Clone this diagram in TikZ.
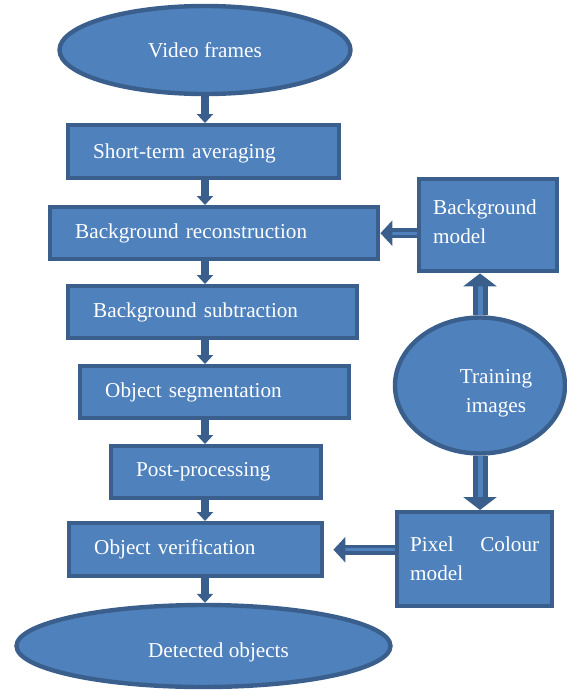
\documentclass[tikz,border=0pt]{standalone}
\usepackage{fontspec}
\setmainfont{Liberation Serif}
\usetikzlibrary{arrows.meta,shapes.geometric}
\definecolor{boxfill}{HTML}{4F81BD}
\definecolor{boxline}{HTML}{3A5F8C}
\newcommand{\nudge}[2]{\raisebox{#1}[\height][\depth]{#2}}
\tikzset{
  stepbox/.style={draw=boxline, fill=boxfill, line width=2.2pt, text=white,
    align=left, anchor=north west, inner xsep=12.5pt, inner ysep=0pt, minimum height=26pt},
  oval/.style={ellipse, draw=boxline, fill=boxfill, line width=2.2pt, text=white,
    align=center, inner sep=0pt},
  flow/.style={draw=boxline, line width=4pt, -{Triangle[width=8pt,length=4.5pt]}},
  hollow/.style={draw=boxline, line width=1.7pt, double=boxfill, double distance=1.6pt,
    -{Triangle[width=12.5pt,length=6pt]}},
  widehollow/.style={hollow, line width=2.5pt, double distance=2.5pt,
    -{Triangle[width=16.5pt,length=6.5pt]}}
}
\begin{document}
\begin{tikzpicture}[x=0.5pt,y=-0.5pt,font=\fontsize{10.6}{14.5}\selectfont]
  \useasboundingbox (0,0) rectangle (567,691);
  % main column
  \node[oval, minimum width=145.5pt, minimum height=44pt] (frames) at (205,50) {Video frames};
  \node[stepbox, text width=110.5pt, minimum height=26.5pt] (avg) at (66,123) {\nudge{-1pt}{Short-term averaging}};
  \node[stepbox, text width=139pt] (recon) at (48,205) {Background reconstruction};
  \node[stepbox, text width=119.5pt] (subtr) at (66,284) {Background subtraction};
  \node[stepbox, text width=109.5pt] (segm) at (78,364) {Object segmentation};
  \node[stepbox, text width=80pt] (post) at (109,444) {Post-processing};
  \node[stepbox, text width=101.5pt, minimum height=26.5pt] (verif) at (67,521) {Object verification};
  \node[oval, minimum width=187pt, minimum height=41pt] (detected) at (203.5,646) {\hspace*{15pt}\nudge{-3pt}{Detected objects}};
  % models on the right
  \node[stepbox, text width=55pt, inner xsep=7pt, minimum height=46pt] (bgmodel) at (417,177) {\nudge{1pt}{\begin{tabular}{@{}l@{}}Background\\model\end{tabular}}};
  \node[oval, minimum width=85pt, minimum height=68pt] (training) at (480,385.5) {\hspace*{16pt}\nudge{-3.5pt}{\begin{tabular}{@{}c@{}}Training\\images\end{tabular}}};
  \node[stepbox, text width=64.5pt, inner xsep=6.5pt, minimum height=47pt, align=justify] (pcmodel) at (395,510) {Pixel Colour model};
  % draw the flow downwards
  \draw[flow] (frames.south) -- (avg.north -| frames);
  \draw[flow] (avg.south -| frames) -- (recon.north -| frames);
  \draw[flow] (recon.south -| frames) -- (subtr.north -| frames);
  \draw[flow] (subtr.south -| frames) -- (segm.north -| frames);
  \draw[flow] (segm.south -| frames) -- (post.north -| frames);
  \draw[flow] (post.south -| frames) -- (verif.north -| frames);
  \draw[flow] (verif.south -| frames) -- (detected.north -| frames);
  % draw the model arrows
  \draw[hollow] (bgmodel.west |- recon) -- (recon.east);
  \draw[widehollow] (training.north) -- (training.north |- bgmodel.south);
  \draw[widehollow] (training.south) -- (training.south |- pcmodel.north);
  \draw[hollow, shorten >=4.5pt] (pcmodel.west |- verif) -- (verif.east);
\end{tikzpicture}
\end{document}
